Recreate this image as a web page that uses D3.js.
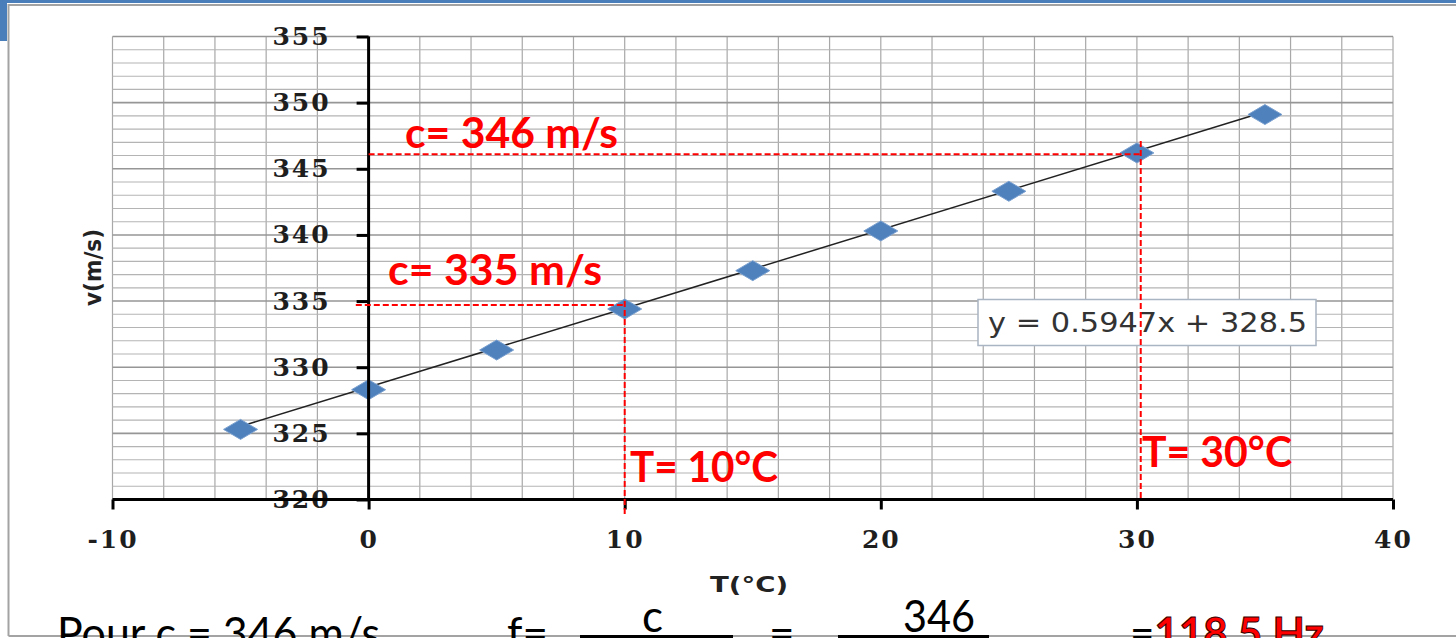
<!DOCTYPE html>
<html>
<head>
<meta charset="utf-8">
<script src="https://cdn.jsdelivr.net/npm/d3@7"></script>
<style>
  body { margin: 0; background: #fff; }
  svg { display: block; }
</style>
</head>
<body>
<div id="chart"></div>
<script>
// measured temperatures and speeds of sound
var temps = [-5, 0, 5, 10, 15, 20, 25, 30, 35];
var speeds = [325.3, 328.3, 331.3, 334.4, 337.3, 340.3, 343.3, 346.2, 349.1];

// tick labels
var xTicks = [-10, 0, 10, 20, 30, 40];
var yTicks = [320, 325, 330, 335, 340, 345, 350, 355];

// linear trendline (from the chart label)
var fitSlope = 0.5947;
var fitIntercept = 328.5;
var fitRange = [-5, 35];

// red reading guides: [t1, v1, t2, v2]
var guideLines = [
    [-0.5, 334.7, 10, 334.7],
    [10, 335, 10, 318.8],
    [0, 346.1, 30.15, 346.1],
    [30.15, 347.1, 30.15, 320]
];
var guideLabels = ["c= 346 m/s", "c= 335 m/s", "T= 10°C", "T= 30°C"];

function init() {
    var w = 1456;
    var h = 638;

    var svg = d3.select("#chart")
                .append("svg")
                .attr("width", w)
                .attr("height", h);

    var x = d3.scaleLinear().domain([-10, 40]).range([112.5, 1393]);
    var y = d3.scaleLinear().domain([320, 355]).range([499.5, 36.5]);

    //slide frame
    svg.append("path")
        .attr("d", "M8.5,636 L8.5,5 L1456,5 M8.5,636 L1456,636")
        .attr("fill", "none")
        .attr("stroke", "#a3a3a3")
        .attr("stroke-width", 2);
    svg.append("rect").attr("x", 0).attr("y", 0).attr("width", w).attr("height", 3).attr("fill", "#4a7ebb");
    svg.append("rect").attr("x", 0).attr("y", 0).attr("width", 7).attr("height", 41).attr("fill", "#4a7ebb");

    //grid
    var grid = svg.append("g");
    grid.selectAll("line.v")
        .data(d3.range(-10, 41, 2))
        .enter()
        .append("line")
        .attr("x1", function(d) { return x(d); })
        .attr("x2", function(d) { return x(d); })
        .attr("y1", y(320))
        .attr("y2", y(355))
        .attr("stroke", "#a8a8a8")
        .attr("stroke-width", 1.2);
    grid.selectAll("line.h")
        .data(d3.range(320, 356, 1))
        .enter()
        .append("line")
        .attr("x1", x(-10))
        .attr("x2", x(40))
        .attr("y1", function(d) { return y(d); })
        .attr("y2", function(d) { return y(d); })
        .attr("stroke", function(d) { return d % 5 === 0 ? "#969696" : "#b4b4b4"; })
        .attr("stroke-width", function(d) { return d % 5 === 0 ? 1.6 : 1.1; });

    //trendline
    svg.append("line")
        .attr("x1", x(fitRange[0]))
        .attr("y1", y(fitSlope * fitRange[0] + fitIntercept))
        .attr("x2", x(fitRange[1]))
        .attr("y2", y(fitSlope * fitRange[1] + fitIntercept))
        .attr("stroke", "#222")
        .attr("stroke-width", 1.5);

    //points (diamonds)
    svg.selectAll("path.pt")
        .data(temps)
        .enter()
        .append("path")
        .attr("class", "pt")
        .attr("d", "M-17,0 L0,-10 L17,0 L0,10 Z")
        .attr("transform", function(d, i) { return "translate(" + x(d) + "," + y(speeds[i]) + ")"; })
        .attr("fill", "#4f81bd")
        .attr("stroke", "#7aa0cf")
        .attr("stroke-width", 1);

    //axes (plain hyphen for negatives, like the original)
    var fmt = function(d) { return String(d); };
    var yAxis = svg.append("g")
        .attr("transform", "translate(" + x(0) + ",0)")
        .call(d3.axisLeft(y).tickValues(yTicks).tickFormat(fmt).tickSize(12).tickSizeOuter(0).tickPadding(26));
    var xAxis = svg.append("g")
        .attr("transform", "translate(0," + y(320) + ")")
        .call(d3.axisBottom(x).tickValues(xTicks).tickFormat(fmt).tickSize(10).tickSizeOuter(0).tickPadding(21));
    [yAxis, xAxis].forEach(function(a) {
        a.attr("font-family", "'DejaVu Serif', serif")
         .attr("font-size", 25)
         .attr("font-weight", "bold");
        a.select(".domain").attr("stroke", "#000").attr("stroke-width", 3);
        a.selectAll(".tick line").attr("stroke", "#000").attr("stroke-width", 3);
        a.selectAll(".tick text").attr("fill", "#1e1e1e").style("letter-spacing", "2px");
    });
    xAxis.select(".domain").attr("d", "M" + x(-10) + ",0H" + x(40));
    yAxis.select(".domain").attr("d", "M0," + y(355) + "V" + y(320));

    //axis titles
    svg.append("text")
        .attr("x", 710)
        .attr("y", 592)
        .attr("textLength", 78)
        .attr("lengthAdjust", "spacingAndGlyphs")
        .attr("font-family", "'DejaVu Sans', sans-serif")
        .attr("font-weight", "bold")
        .attr("font-size", 21)
        .attr("fill", "#222")
        .text("T(°C)");
    svg.append("text")
        .attr("transform", "translate(101,306) rotate(-90)")
        .attr("textLength", 77)
        .attr("lengthAdjust", "spacingAndGlyphs")
        .attr("font-family", "'DejaVu Sans', sans-serif")
        .attr("font-weight", "bold")
        .attr("font-size", 23)
        .attr("fill", "#222")
        .text("v(m/s)");

    //equation box
    svg.append("rect")
        .attr("x", 978)
        .attr("y", 299.5)
        .attr("width", 338)
        .attr("height", 46)
        .attr("fill", "#fff")
        .attr("stroke", "#a9b5c2")
        .attr("stroke-width", 1.5);
    svg.append("text")
        .attr("x", 988)
        .attr("y", 332)
        .attr("textLength", 319)
        .attr("lengthAdjust", "spacingAndGlyphs")
        .attr("font-family", "'DejaVu Sans', sans-serif")
        .attr("font-size", 27)
        .attr("fill", "#333")
        .text("y = " + fitSlope + "x + " + fitIntercept);

    //red dashed guides
    svg.selectAll("line.guide")
        .data(guideLines)
        .enter()
        .append("line")
        .attr("x1", function(d) { return x(d[0]); })
        .attr("y1", function(d) { return y(d[1]); })
        .attr("x2", function(d) { return x(d[2]); })
        .attr("y2", function(d) { return y(d[3]); })
        .attr("stroke", "#ff0000")
        .attr("stroke-width", 2)
        .attr("stroke-dasharray", "6,3");

    //red labels
    var labelPos = [[405, 148, 213], [388, 285, 214], [630, 482, 148], [1142, 467, 150]];
    svg.selectAll("text.guide")
        .data(guideLabels)
        .enter()
        .append("text")
        .attr("x", function(d, i) { return labelPos[i][0]; })
        .attr("y", function(d, i) { return labelPos[i][1]; })
        .attr("textLength", function(d, i) { return labelPos[i][2]; })
        .attr("lengthAdjust", "spacingAndGlyphs")
        .attr("font-family", "Lato, 'Open Sans', sans-serif")
        .attr("font-weight", "bold")
        .attr("font-size", 42)
        .attr("fill", "#ff0000")
        .text(function(d) { return d; });

    //calculation line underneath
    var calc = svg.append("g")
        .attr("font-family", "Lato, 'Open Sans', sans-serif")
        .attr("font-size", 44)
        .attr("fill", "#000");
    calc.append("text").attr("x", 57).attr("y", 649).attr("textLength", 323)
        .attr("lengthAdjust", "spacingAndGlyphs").text("Pour c = 346 m/s");
    calc.append("text").attr("x", 507).attr("y", 649).text("f=");
    calc.append("text").attr("x", 642).attr("y", 632).text("c");
    calc.append("text").attr("x", 769).attr("y", 649).text("=");
    calc.append("text").attr("x", 903).attr("y", 632).attr("textLength", 72)
        .attr("lengthAdjust", "spacingAndGlyphs").text("346");
    var res = calc.append("text").attr("x", 1130).attr("y", 649)
        .attr("textLength", 194)
        .attr("lengthAdjust", "spacingAndGlyphs");
    res.append("tspan").text("=");
    res.append("tspan")
        .attr("fill", "#ff0000")
        .attr("font-weight", "bold")
        .attr("stroke", "#300")
        .attr("stroke-width", 1)
        .text("118.5 Hz");
    calc.append("path")
        .attr("d", "M580,636.5 H733 M838,636.5 H989")
        .attr("stroke", "#000")
        .attr("stroke-width", 3);
}

window.onload = init;
</script>
</body>
</html>
